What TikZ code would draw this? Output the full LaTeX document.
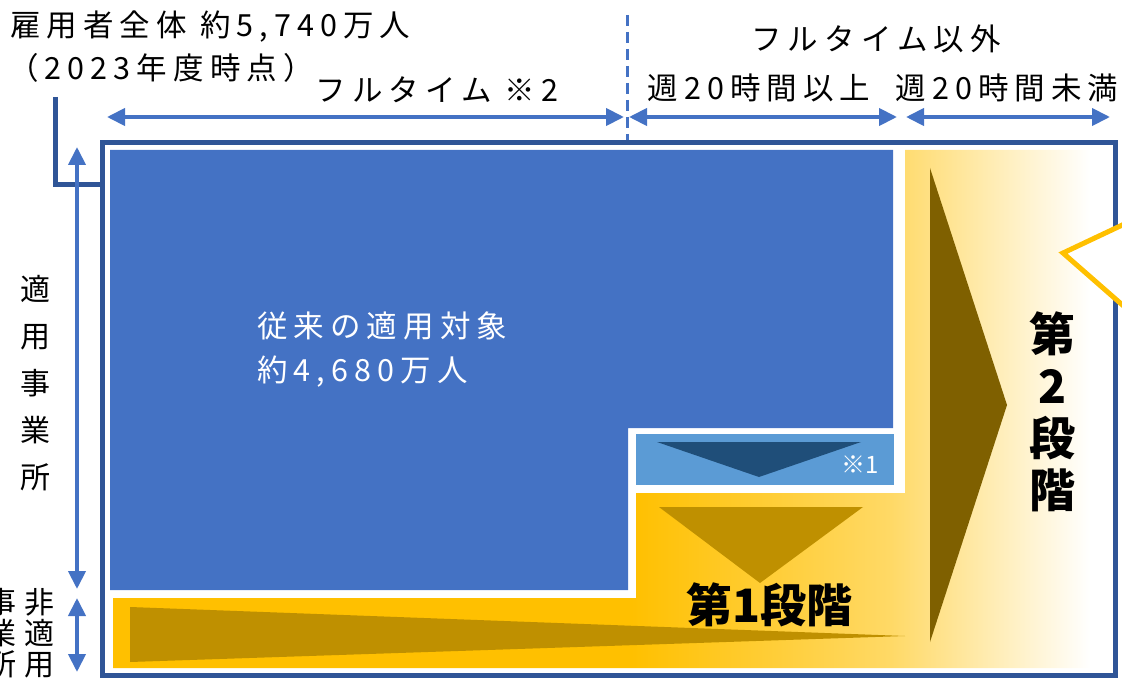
\documentclass[tikz,border=0pt]{standalone}
\usepackage{fontspec}
\setmainfont{Noto Sans CJK JP}
\newfontfamily\jp[LetterSpace=20]{Noto Sans CJK JP}
\newfontfamily\jpv{Noto Sans CJK JP}
\usetikzlibrary{arrows.meta}
\definecolor{frameblue}{HTML}{2F5597}
\definecolor{mainblue}{HTML}{4472C4}
\definecolor{lightblue}{HTML}{5B9BD5}
\definecolor{navy}{HTML}{1F4E79}
\definecolor{ylA}{HTML}{FFC000}
\definecolor{ylB}{HTML}{FFD966}
\definecolor{gold}{HTML}{BF9000}
\definecolor{brownish}{HTML}{7F6000}
\pgfdeclarehorizontalshading{yelgrad}{100bp}{color(0bp)=(ylA); color(25bp)=(ylA); color(51bp)=(ylA); color(64bp)=(ylB); color(74bp)=(white); color(100bp)=(white)}
\begin{document}
\begin{tikzpicture}[x=1pt,y=-1pt,
  lbl/.style={inner sep=0pt, font=\jp\fontsize{30.5}{36}\selectfont},
  vlbl/.style={inner sep=0pt, align=center, font=\jpv\fontsize{30}{47}\selectfont},
  vlbls/.style={inner sep=0pt, align=center, font=\jpv\fontsize{30}{31}\selectfont},
  stage/.style={inner sep=0pt, font=\jpv\bfseries\fontsize{46}{52}\selectfont},
  dimarrow/.style={mainblue, line width=4, {Triangle[length=18,width=17]}-{Triangle[length=18,width=17]}},
  framebox/.style={draw=frameblue, line width=5}
]
\useasboundingbox (0,0) rectangle (1122,690);
\clip (0,0) rectangle (1122,690);

% outer frame and bracket
\draw[framebox] (102.5,143) rectangle (1115.5,675);
\draw[frameblue, line width=5] (55,97) -- (55,184.5) -- (102,184.5);

% blue region
\fill[mainblue] (110,150) -- (893,150) -- (893,428) -- (628,428) -- (628,590) -- (110,590) -- cycle;
% light blue box
\fill[lightblue] (636,434) rectangle (894,485);
\fill[navy] (657,442) -- (861,442) -- (759,477) -- cycle;

% yellow region
\shade[shading=yelgrad] (113,598) -- (636,598) -- (636,493) -- (905,493) -- (905,150) -- (1110,150) -- (1110,668) -- (113,668) -- cycle;
\fill[gold] (659,507) -- (863,507) -- (760,583) -- cycle;
\fill[gold] (130,607) -- (905,636) -- (130,662) -- cycle;
\fill[brownish] (930,168) -- (1007,405) -- (930,642) -- cycle;

% chevron at right edge
\filldraw[fill=white, draw=ylA, line width=5, line join=miter] (1135,219) -- (1063,253) -- (1135,316) -- cycle;

% top dimension arrows
\draw[mainblue, line width=3, dash pattern=on 11pt off 6pt] (627,15) -- (627,140);
\coordinate (a1l) at (107,117); \coordinate (a1r) at (624,117);
\coordinate (a2l) at (629,117); \coordinate (a2r) at (897,117);
\coordinate (a3l) at (906,117); \coordinate (a3r) at (1110,117);
\draw[dimarrow] (a1l) -- (a1r);
\draw[dimarrow] (a2l) -- (a2r);
\draw[dimarrow] (a3l) -- (a3r);

% left dimension arrows
\coordinate (b1t) at (77,147); \coordinate (b1b) at (77,589);
\coordinate (b2t) at (77,598); \coordinate (b2b) at (77,672);
\draw[dimarrow] (b1t) -- (b1b);
\draw[dimarrow] (b2t) -- (b2b);

% texts
\node[lbl, anchor=west] (total) at (10,27) {雇用者全体 約5,740万人};
\node[lbl, anchor=west] (year) at (8,68) {（2023年度時点）};
\node[lbl] (full) at (437,90) {フルタイム ※2};
\node[lbl] (nonfull) at (876,39) {フルタイム以外};
\node[lbl] (ge20) at (759,88) {週20時間以上};
\node[lbl] (lt20) at (1007,88) {週20時間未満};
\node[lbl, anchor=west, text=white] (trad1) at (257,326) {従来の適用対象};
\node[lbl, anchor=west, text=white] (trad2) at (257,372) {約4,680万人};
\node[inner sep=0pt, font=\jpv\fontsize{24}{28}\selectfont, text=white] (n1) at (860,465) {※1};
\node[vlbl] (apply) at (35,383) {適\\用\\事\\業\\所};
\node[vlbls] (nonapply1) at (39,633) {非\\適\\用};
\node[vlbls] (nonapply2) at (2,633) {事\\業\\所};
\node[stage] (s1) at (769,605) {第1段階};
\node[stage, align=center] (s2) at (1052,412) {第\\2\\段\\階};
\end{tikzpicture}
\end{document}
